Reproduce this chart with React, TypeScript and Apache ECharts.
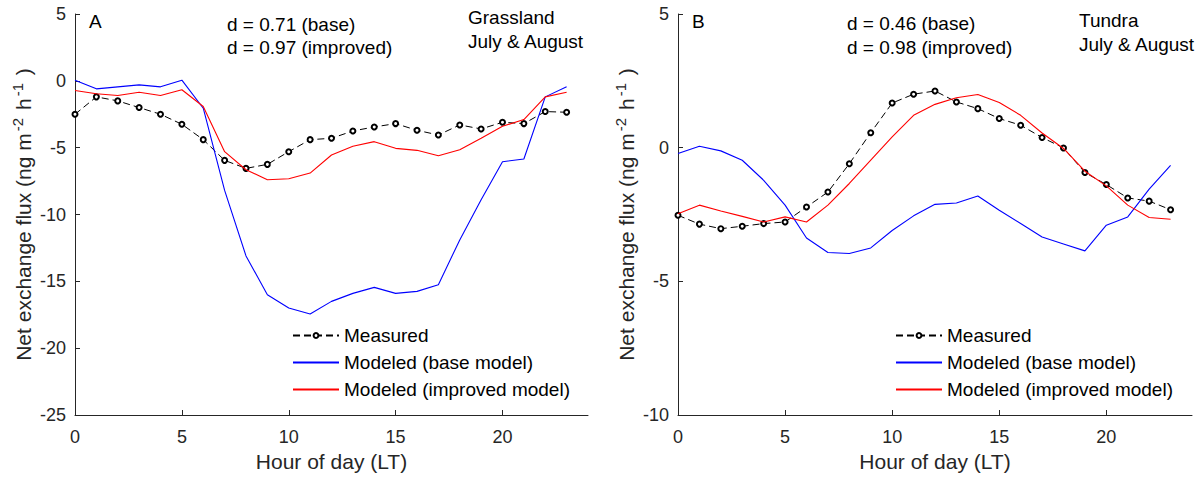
import React, { useEffect, useRef } from 'react';
import * as echarts from 'echarts';

const hours = [0, 1, 2, 3, 4, 5, 6, 7, 8, 9, 10, 11, 12, 13, 14, 15, 16, 17, 18, 19, 20, 21, 22, 23];

const grassMeasured = [-2.5, -1.2, -1.5, -2.0, -2.5, -3.25, -4.4, -5.95, -6.55, -6.25, -5.3, -4.4, -4.3, -3.75, -3.45, -3.2, -3.7, -4.05, -3.3, -3.6, -3.1, -3.2, -2.3, -2.35];
const grassBase = [0.05, -0.6, -0.45, -0.3, -0.45, 0.05, -2.05, -8.2, -13.1, -16.0, -17.0, -17.45, -16.5, -15.9, -15.45, -15.9, -15.75, -15.25, -11.9, -8.9, -6.05, -5.85, -1.2, -0.45];
const grassImproved = [-0.72, -0.97, -1.1, -0.85, -1.1, -0.67, -1.92, -5.3, -6.65, -7.4, -7.33, -6.9, -5.55, -4.9, -4.55, -5.05, -5.2, -5.6, -5.15, -4.3, -3.4, -2.9, -1.2, -0.85];

const tundraMeasured = [-2.53, -2.86, -3.03, -2.94, -2.84, -2.78, -2.22, -1.66, -0.6, 0.56, 1.67, 2.0, 2.12, 1.71, 1.46, 1.09, 0.84, 0.38, -0.01, -0.93, -1.38, -1.88, -2.0, -2.32];
const tundraBase = [-0.22, 0.05, -0.12, -0.47, -1.22, -2.15, -3.38, -3.92, -3.96, -3.75, -3.1, -2.55, -2.12, -2.07, -1.81, -2.34, -2.84, -3.34, -3.6, -3.86, -2.9, -2.59, -1.55, -0.66];
const tundraImproved = [-2.47, -2.15, -2.37, -2.57, -2.78, -2.59, -2.78, -2.15, -1.34, -0.47, 0.4, 1.21, 1.62, 1.87, 1.99, 1.69, 1.21, 0.55, -0.03, -0.88, -1.43, -2.15, -2.61, -2.68];

const xTicks = [0, 5, 10, 15, 20];
const seriesNames = ['Measured', 'Modeled (base model)', 'Modeled (improved model)'];
const panelLetters = ['A', 'B'];
const dTexts = [
  ['d = 0.71 (base)', 'd = 0.97 (improved)'],
  ['d = 0.46 (base)', 'd = 0.98 (improved)'],
];
const siteTexts = [
  ['Grassland', 'July & August'],
  ['Tundra', 'July & August'],
];
const yRanges = [
  [-25, 5],
  [-10, 5],
];

const FONT = '"Liberation Sans", Arial, Helvetica, sans-serif';
const AX = '#262626';

const pairs = (vals: number[]) => hours.map((h, i) => [h, vals[i]]);

function makeSeries(idx: number, m: number[], b: number[], im: number[]) {
  return [
    {
      type: 'line',
      name: seriesNames[0],
      xAxisIndex: idx,
      yAxisIndex: idx,
      data: pairs(m),
      symbol: 'emptyCircle',
      symbolSize: 5,
      showSymbol: true,
      lineStyle: { color: '#000', width: 1, type: [7, 4] },
      itemStyle: { color: '#000', borderColor: '#000', borderWidth: 1 },
      z: 2,
    },
    {
      type: 'line',
      name: seriesNames[1],
      xAxisIndex: idx,
      yAxisIndex: idx,
      data: pairs(b),
      symbol: 'none',
      lineStyle: { color: '#0000ff', width: 1.1 },
      itemStyle: { color: '#0000ff' },
      z: 3,
    },
    {
      type: 'line',
      name: seriesNames[2],
      xAxisIndex: idx,
      yAxisIndex: idx,
      data: pairs(im),
      symbol: 'none',
      lineStyle: { color: '#ff0000', width: 1.1 },
      itemStyle: { color: '#ff0000' },
      z: 4,
    },
  ];
}

function xAxis(idx: number) {
  return {
    type: 'value',
    gridIndex: idx,
    min: 0,
    max: 24,
    interval: 5,
    axisLine: { show: true, onZero: false, lineStyle: { color: AX, width: 1 } },
    axisTick: { show: true, inside: true, length: 5, customValues: xTicks, lineStyle: { color: AX } },
    axisLabel: { customValues: xTicks, fontSize: 18, color: AX, fontFamily: FONT, margin: 13 },
    splitLine: { show: false },
    name: 'Hour of day (LT)',
    nameLocation: 'middle',
    nameGap: 36,
    nameTextStyle: { fontSize: 21, color: AX, fontFamily: FONT },
  };
}

function yAxis(idx: number) {
  return {
    type: 'value',
    gridIndex: idx,
    min: yRanges[idx][0],
    max: yRanges[idx][1],
    interval: 5,
    axisLine: { show: true, onZero: false, lineStyle: { color: AX, width: 1 } },
    axisTick: { show: true, inside: true, length: 5, lineStyle: { color: AX } },
    axisLabel: { fontSize: 18, color: AX, fontFamily: FONT, margin: 9 },
    splitLine: { show: false },
    name: 'Net exchange flux (ng m{sup|-2} h{sup|-1} )',
    nameLocation: 'middle',
    nameGap: 37,
    nameTextStyle: {
      fontSize: 21,
      color: AX,
      fontFamily: FONT,
      lineHeight: 26,
      rich: {
        sup: { fontSize: 15, color: AX, fontFamily: FONT, verticalAlign: 'top', lineHeight: 15, padding: [0, 2, 0, 2] },
      },
    },
  };
}

function legend(left: number) {
  return {
    orient: 'vertical',
    left,
    top: 326,
    padding: 0,
    itemWidth: 46,
    itemHeight: 6,
    itemGap: 8,
    data: [
      { name: seriesNames[0] },
      { name: seriesNames[1], itemStyle: { opacity: 0 } },
      { name: seriesNames[2], itemStyle: { opacity: 0 } },
    ],
    textStyle: { fontSize: 19, color: '#000', fontFamily: FONT, lineHeight: 19 },
    selectedMode: false,
  };
}

function txt(x: number, y: number, text: string) {
  return {
    type: 'text',
    x,
    y,
    style: { text, fill: '#000', font: `19px ${FONT}`, verticalAlign: 'middle' },
    z: 10,
  };
}

export default function App() {
  const ref = useRef<HTMLDivElement>(null);
  useEffect(() => {
    const chart = echarts.init(ref.current!, null, { renderer: 'svg' });
    const option = {
      animation: false,
      backgroundColor: '#fff',
      grid: [
        { left: 75, top: 14, width: 513, height: 401 },
        { left: 678, top: 14, width: 514, height: 401 },
      ],
      xAxis: [xAxis(0), xAxis(1)],
      yAxis: [yAxis(0), yAxis(1)],
      legend: [legend(292), legend(895)],
      series: [
        ...makeSeries(0, grassMeasured, grassBase, grassImproved),
        ...makeSeries(1, tundraMeasured, tundraBase, tundraImproved),
      ],
      graphic: [
        txt(89, 21, panelLetters[0]),
        txt(227, 24, dTexts[0][0]),
        txt(227, 47, dTexts[0][1]),
        txt(468, 17, siteTexts[0][0]),
        txt(468, 41, siteTexts[0][1]),
        txt(692, 21, panelLetters[1]),
        txt(847, 23, dTexts[1][0]),
        txt(847, 47, dTexts[1][1]),
        txt(1079, 20, siteTexts[1][0]),
        txt(1079, 44, siteTexts[1][1]),
      ],
    };
    chart.setOption(option as any);
    return () => chart.dispose();
  }, []);
  return (
    <div
      ref={ref}
      style={{ position: 'fixed', left: 0, top: 0, width: 1201, height: 482, background: '#fff' }}
    />
  );
}
